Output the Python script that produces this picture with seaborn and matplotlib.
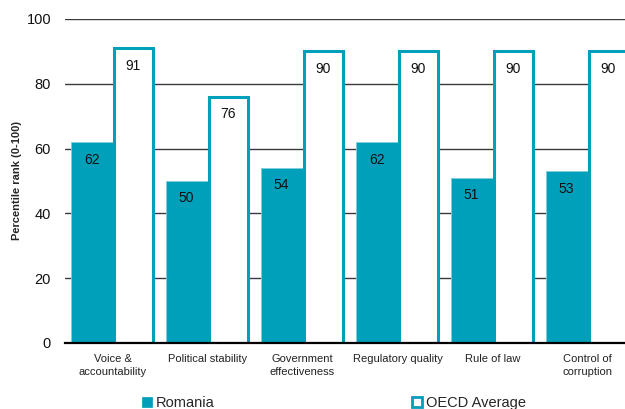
import matplotlib
matplotlib.use("Agg")
import matplotlib.pyplot as plt
from matplotlib.patches import Patch
import seaborn as sns
import pandas as pd

categories = ["Voice &\naccountability", "Political stability", "Government\neffectiveness",
              "Regulatory quality", "Rule of law", "Control of\ncorruption"]
romania = [62, 50, 54, 62, 51, 53]
oecd = [91, 76, 90, 90, 90, 90]
series = ["Romania", "OECD Average"]

teal = "#009FBA"

df = pd.DataFrame({
    "category": categories * 2,
    "value": romania + oecd,
    "series": [series[0]] * len(categories) + [series[1]] * len(categories),
})

sns.set_style("white")
plt.rcParams["font.family"] = ["Liberation Sans", "DejaVu Sans"]

fig = plt.figure(figsize=(6.25, 4.09), dpi=100)
# axes extends past the right edge of the canvas
ax = fig.add_axes([65 / 625, 66 / 409, 570 / 625, 324 / 409])

sns.barplot(data=df, x="category", y="value", hue="series", order=categories,
            hue_order=series, palette=[teal, "white"], width=0.88, gap=0,
            saturation=1, legend=False, ax=ax, zorder=3)

n = len(categories)
for i, patch in enumerate(ax.patches[:2 * n]):
    if i >= n:
        # OECD bars: hollow with a teal outline, drawn slightly inset
        x, w = patch.get_x(), patch.get_width()
        patch.set_x(x + 0.012)
        patch.set_width(w - 0.024)
        patch.set_facecolor("white")
        patch.set_edgecolor(teal)
        patch.set_linewidth(2.2)
    else:
        patch.set_facecolor(teal)
        patch.set_edgecolor("#7fcfdc")
        patch.set_linewidth(0.6)

for container in ax.containers:
    for bar in container:
        h = bar.get_height()
        ax.annotate(f"{h:.0f}", (bar.get_x() + bar.get_width() / 2, h),
                    xytext=(0, -7.5), textcoords="offset points",
                    ha="center", va="top", fontsize=10, color="#111111", zorder=5)

ax.set_xlim(-0.5, n - 0.5)
ax.set_ylim(0, 100)
ax.set_yticks([0, 20, 40, 60, 80, 100])
ax.yaxis.grid(True, color="#3a3a3a", linewidth=1.0, zorder=0)
ax.xaxis.grid(False)
for s in ["left", "right", "top"]:
    ax.spines[s].set_visible(False)
ax.spines["bottom"].set_color("black")
ax.spines["bottom"].set_linewidth(1.6)
ax.spines["bottom"].set_zorder(4)
ax.set_axisbelow(True)

ax.tick_params(axis="y", length=0, pad=10, labelsize=10.5, labelcolor="#111111")
ax.tick_params(axis="x", length=0, pad=8, labelsize=8, labelcolor="#222222")
for lbl in ax.get_xticklabels():
    lbl.set_linespacing(1.3)
ax.set_xlabel("")
ax.set_ylabel("Percentile rank (0-100)", fontsize=8, fontweight="bold")
ax.yaxis.set_label_coords(-43 / 570, 0.5)

handles = [Patch(facecolor=teal, edgecolor=teal, linewidth=0.5),
           Patch(facecolor="white", edgecolor=teal, linewidth=2.0)]
fig.legend(handles, series, loc="center", bbox_to_anchor=(334 / 625, 6 / 409),
           ncol=2, frameon=False, fontsize=10.5, handlelength=0.7, handleheight=0.7,
           handletextpad=0.3, columnspacing=13.5, borderpad=0)

fig.savefig("out.png", dpi=100)
